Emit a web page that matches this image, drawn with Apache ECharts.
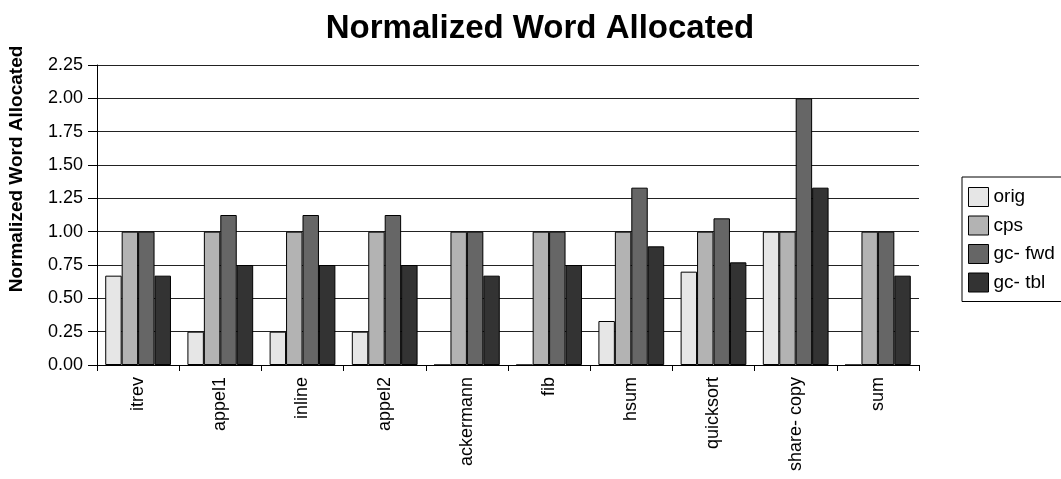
<!DOCTYPE html>
<html>
<head>
<meta charset="utf-8">
<script src="https://cdn.jsdelivr.net/npm/echarts@6/dist/echarts.min.js"></script>
<style>
  html, body { margin: 0; padding: 0; background: #fff; }
  #chart { width: 1061px; height: 479px; }
</style>
</head>
<body>
<div id="chart"></div>
<script>
// Benchmarks on the category axis
const categories = ['itrev', 'appel1', 'inline', 'appel2', 'ackermann', 'fib', 'hsum', 'quicksort', 'share- copy', 'sum'];

// Normalized words allocated per variant
const orig  = [0.67, 0.25, 0.25, 0.25, 0, 0, 0.33, 0.70, 1.00, 0];
const cps   = [1.00, 1.00, 1.00, 1.00, 1.00, 1.00, 1.00, 1.00, 1.00, 1.00];
const gcFwd = [1.00, 1.125, 1.125, 1.125, 1.00, 1.00, 1.33, 1.10, 2.00, 1.00];
const gcTbl = [0.67, 0.75, 0.75, 0.75, 0.67, 0.75, 0.89, 0.77, 1.33, 0.67];

const seriesNames = ['orig', 'cps', 'gc- fwd', 'gc- tbl'];
const seriesData = [orig, cps, gcFwd, gcTbl];
const seriesColors = ['#e6e6e6', '#b3b3b3', '#666666', '#333333'];

const FONT = '"Liberation Sans", Arial, sans-serif';

const chart = echarts.init(document.getElementById('chart'));
chart.setOption({
  animation: false,
  backgroundColor: '#ffffff',
  textStyle: { fontFamily: FONT, color: '#000' },
  title: {
    text: 'Normalized Word Allocated',
    left: 535,
    textAlign: 'center',
    top: 7,
    textStyle: { fontFamily: FONT, fontSize: 33, fontWeight: 'bold', color: '#000' }
  },
  legend: {
    orient: 'vertical',
    left: 962,
    top: 177,
    padding: [10, 40, 9, 6],
    itemWidth: 20,
    itemHeight: 19,
    itemGap: 8.5,
    icon: 'rect',
    borderColor: '#000',
    borderWidth: 1,
    itemStyle: { borderColor: '#000', borderWidth: 1 },
    textStyle: { fontFamily: FONT, fontSize: 19, color: '#000' },
    data: seriesNames
  },
  grid: { left: 97, right: 142, top: 65, bottom: 114, containLabel: false },
  xAxis: {
    type: 'category',
    data: categories,
    axisLine: { lineStyle: { color: '#000', width: 1 } },
    axisTick: { show: true, length: 6, lineStyle: { color: '#000' } },
    axisLabel: { rotate: 90, margin: 12, fontSize: 18, color: '#000', fontFamily: FONT, interval: 0 },
    splitLine: { show: false }
  },
  yAxis: {
    type: 'value',
    min: 0,
    max: 2.25,
    interval: 0.25,
    axisLine: { show: true, lineStyle: { color: '#000', width: 1 } },
    axisTick: { show: true, length: 9, lineStyle: { color: '#000' } },
    axisLabel: {
      margin: 14, fontSize: 18, color: '#000', fontFamily: FONT,
      formatter: v => v.toFixed(2)
    },
    splitLine: { show: true, lineStyle: { color: '#222', width: 1 } }
  },
  graphic: [{
    type: 'text',
    x: 17,
    y: 169,
    rotation: Math.PI / 2,
    style: {
      text: 'Normalized Word Allocated',
      fontFamily: FONT,
      fontSize: 19,
      fontWeight: 'bold',
      fill: '#000',
      align: 'center',
      verticalAlign: 'middle'
    }
  }],
  series: seriesNames.map((name, i) => ({
    name,
    type: 'bar',
    data: seriesData[i],
    barGap: '0%',
    barCategoryGap: '20%',
    itemStyle: { color: seriesColors[i], borderColor: '#000', borderWidth: 1 }
  }))
});
</script>
</body>
</html>
